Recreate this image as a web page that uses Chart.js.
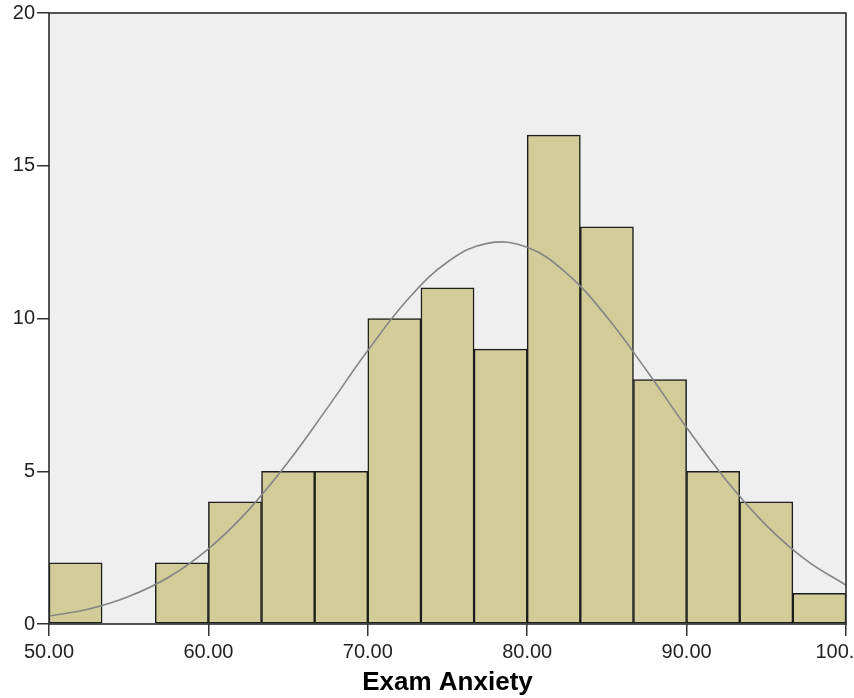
<!DOCTYPE html>
<html>
<head>
<meta charset="utf-8">
<script src="https://cdn.jsdelivr.net/npm/chart.js@4.4.1/dist/chart.umd.min.js"></script>
<style>
  html, body { margin: 0; padding: 0; background: #ffffff; }
  #wrap { width: 854px; height: 698px; }
</style>
</head>
<body>
<div id="wrap"><canvas id="c" width="854" height="698"></canvas></div>
<script>
// Histogram bins: 15 equal-width bins from 50 to 100
const binLabels = [
  '50.0-53.3', '53.3-56.7', '56.7-60.0', '60.0-63.3', '63.3-66.7',
  '66.7-70.0', '70.0-73.3', '73.3-76.7', '76.7-80.0', '80.0-83.3',
  '83.3-86.7', '86.7-90.0', '90.0-93.3', '93.3-96.7', '96.7-100.0'
];
const binCounts = [2, 0, 2, 4, 5, 5, 10, 11, 9, 16, 13, 8, 5, 4, 1];

// Fitted normal curve, sampled along the x axis
const curveX = [50, 52.5, 55, 57.5, 60, 62.5, 65, 67.5, 70, 72.5, 75,
                77.5, 80, 82.5, 85, 87.5, 90, 92.5, 95, 97.5, 100];
const curveY = [0.26, 0.49, 0.90, 1.53, 2.46, 3.72, 5.30, 7.10, 8.95, 10.62, 11.85,
                12.46, 12.33, 11.47, 10.05, 8.29, 6.43, 4.70, 3.23, 2.09, 1.27];

// Axis tick values
const xTicks = [50, 60, 70, 80, 90, 100];
const yTicks = [0, 5, 10, 15, 20];

const FONT = "'Liberation Sans', Arial, sans-serif";

const plotFrame = {
  id: 'plotFrame',
  beforeDraw(chart) {
    const a = chart.chartArea, ctx = chart.ctx;
    ctx.save();
    ctx.fillStyle = '#efefef';
    ctx.fillRect(a.left, a.top, a.right - a.left, a.bottom - a.top);
    ctx.restore();
  },
  afterDraw(chart) {
    const a = chart.chartArea, ctx = chart.ctx;
    ctx.save();
    ctx.strokeStyle = '#2a2a2a';
    ctx.lineWidth = 1.6;
    ctx.strokeRect(a.left, a.top, a.right - a.left, a.bottom - a.top);
    ctx.restore();
  }
};

new Chart(document.getElementById('c'), {
  type: 'bar',
  data: {
    labels: binLabels,
    datasets: [
      {
        type: 'line',
        data: curveX.map((x, i) => ({ x: x, y: curveY[i] })),
        xAxisID: 'x',
        yAxisID: 'y',
        borderColor: '#858585',
        borderWidth: 1.6,
        pointRadius: 0,
        fill: false,
        tension: 0.4,
        order: 0
      },
      {
        type: 'bar',
        data: binCounts,
        xAxisID: 'xb',
        yAxisID: 'y',
        backgroundColor: '#d2cd98',
        borderColor: '#1c1c1c',
        borderWidth: 1.5,
        borderSkipped: false,
        grouped: false,
        barPercentage: 1.0,
        categoryPercentage: 1.0,
        order: 1
      }
    ]
  },
  options: {
    responsive: false,
    animation: false,
    layout: { padding: { top: 13, right: 8, left: 0, bottom: 0 } },
    plugins: {
      legend: { display: false },
      tooltip: { enabled: false }
    },
    scales: {
      xb: {
        type: 'category',
        position: 'bottom',
        display: false,
        offset: true,
        grid: { display: false, offset: true }
      },
      x: {
        type: 'linear',
        position: 'bottom',
        offset: false,
        min: 50,
        max: 100,
        afterBuildTicks(scale) { scale.ticks = xTicks.map(v => ({ value: v })); },
        afterFit(scale) {
          scale.height = 74;
          scale.paddingLeft = 0;
          scale.paddingRight = 0;
        },
        border: { display: false },
        grid: {
          offset: false,
          drawOnChartArea: false,
          drawTicks: true,
          tickLength: 12,
          color: '#333333',
          lineWidth: 1.5
        },
        ticks: {
          color: '#222222',
          font: { family: FONT, size: 20 },
          padding: 4,
          maxRotation: 0,
          autoSkip: false,
          callback: (v) => Number(v).toFixed(2)
        },
        title: {
          display: true,
          text: 'Exam Anxiety',
          color: '#000000',
          font: { family: FONT, size: 26, weight: 'bold' },
          padding: { top: 5, bottom: 0 }
        }
      },
      y: {
        type: 'linear',
        min: 0,
        max: 20,
        afterBuildTicks(scale) { scale.ticks = yTicks.map(v => ({ value: v })); },
        afterFit(scale) {
          scale.width = 49;
          scale.paddingTop = 0;
          scale.paddingBottom = 0;
        },
        border: { display: false },
        grid: {
          drawOnChartArea: false,
          drawTicks: true,
          tickLength: 12,
          color: '#333333',
          lineWidth: 1.5
        },
        ticks: {
          color: '#222222',
          font: { family: FONT, size: 20 },
          padding: 2
        }
      }
    }
  },
  plugins: [plotFrame]
});
</script>
</body>
</html>
